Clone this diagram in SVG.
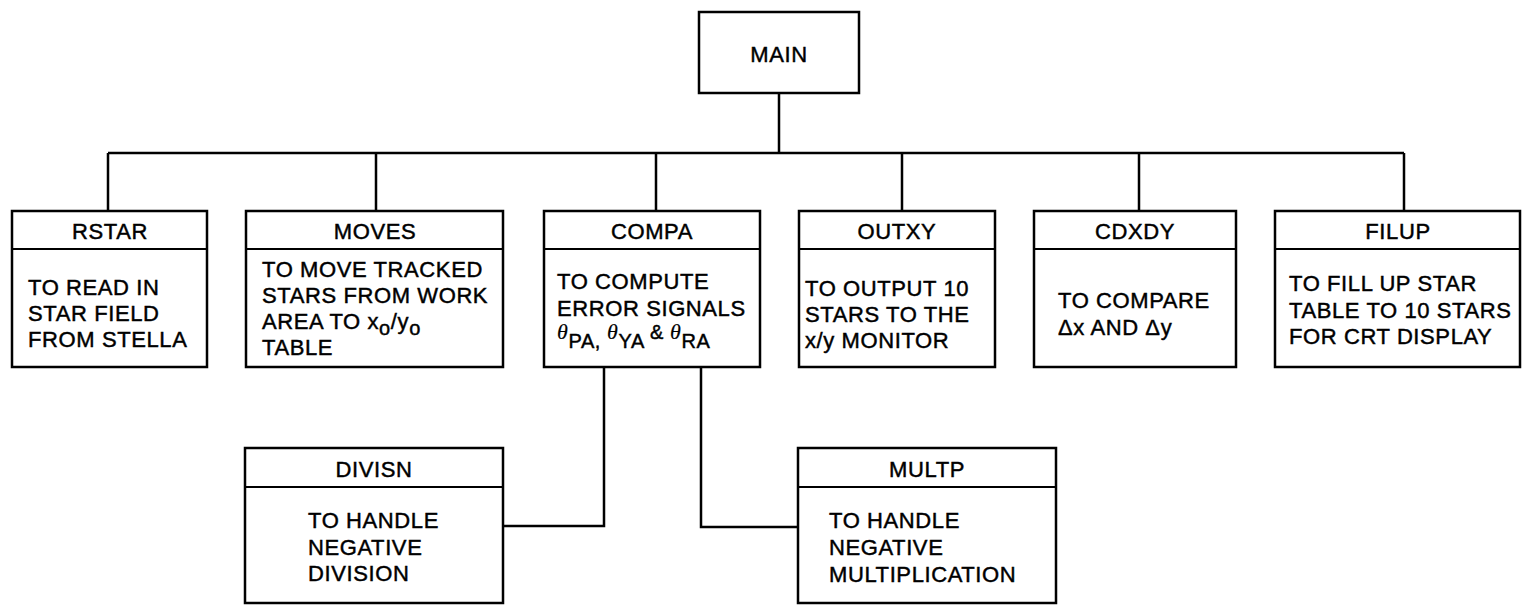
<svg xmlns="http://www.w3.org/2000/svg" width="1528" height="607" viewBox="0 0 1528 607">
<style>
.box{fill:#fff;stroke:#000;stroke-width:2.5}
.div{stroke:#000;stroke-width:2}
.conn{fill:none;stroke:#000;stroke-width:2.5}
.t{font-family:"Liberation Sans",Arial,sans-serif;font-size:22px;fill:#000;stroke:#000;stroke-width:0.45;letter-spacing:0.6px}
.h{text-anchor:middle}
.th{font-family:"Liberation Serif",serif;font-style:italic;font-size:22px;stroke-width:0.2}
.sub{font-size:20px}
</style>
<rect width="1528" height="607" fill="#fff"/>
<g id="connectors">
<path class="conn" d="M779 93V153M108 153H1404M108 153V211M376 153V211M656 153V211M902 153V211M1139 153V211M1404 153V211"/>
<path class="conn" d="M604 367V526H503"/>
<path class="conn" d="M701 367V527H798"/>
</g>
<g id="MAIN">
<rect class="box" x="699" y="12" width="160" height="81"/>
<text class="t h" x="779" y="62">MAIN</text>
</g>
<g id="RSTAR">
<rect class="box" x="12" y="211" width="195" height="156"/>
<line class="div" x1="12" y1="249" x2="207" y2="249"/>
<text class="t h" x="110" y="239">RSTAR</text>
<text class="t" x="28" y="295">TO READ IN</text>
<text class="t" x="28" y="321">STAR FIELD</text>
<text class="t" x="28" y="347">FROM STELLA</text>
</g>
<g id="MOVES">
<rect class="box" x="246" y="211" width="257" height="156"/>
<line class="div" x1="246" y1="249" x2="503" y2="249"/>
<text class="t h" x="375" y="239">MOVES</text>
<text class="t" x="262" y="277">TO MOVE TRACKED</text>
<text class="t" x="262" y="303">STARS FROM WORK</text>
<text class="t" x="262" y="329">AREA TO x<tspan class="sub" dy="6">o</tspan><tspan dy="-6">/y</tspan><tspan class="sub" dy="6">o</tspan></text>
<text class="t" x="262" y="355">TABLE</text>
</g>
<g id="COMPA">
<rect class="box" x="544" y="211" width="216" height="156"/>
<line class="div" x1="544" y1="249" x2="760" y2="249"/>
<text class="t h" x="652" y="239">COMPA</text>
<text class="t" x="557" y="289">TO COMPUTE</text>
<text class="t" x="557" y="316">ERROR SIGNALS</text>
<text class="t" x="557" y="339"><tspan class="th">θ</tspan><tspan class="sub" dy="9">PA,</tspan><tspan class="th" dy="-9"> θ</tspan><tspan class="sub" dy="9">YA</tspan><tspan class="sub" dy="-9"> &amp; </tspan><tspan class="th">θ</tspan><tspan class="sub" dy="9">RA</tspan></text>
</g>
<g id="OUTXY">
<rect class="box" x="799" y="211" width="196" height="156"/>
<line class="div" x1="799" y1="249" x2="995" y2="249"/>
<text class="t h" x="897" y="239">OUTXY</text>
<text class="t" x="805" y="296">TO OUTPUT 10</text>
<text class="t" x="805" y="322">STARS TO THE</text>
<text class="t" x="805" y="348">x/y MONITOR</text>
</g>
<g id="CDXDY">
<rect class="box" x="1034" y="211" width="202" height="156"/>
<line class="div" x1="1034" y1="249" x2="1236" y2="249"/>
<text class="t h" x="1135" y="239">CDXDY</text>
<text class="t" x="1058" y="308">TO COMPARE</text>
<text class="t" x="1058" y="335">Δx AND Δy</text>
</g>
<g id="FILUP">
<rect class="box" x="1275" y="211" width="245" height="156"/>
<line class="div" x1="1275" y1="249" x2="1520" y2="249"/>
<text class="t h" x="1398" y="239">FILUP</text>
<text class="t" x="1289" y="291">TO FILL UP STAR</text>
<text class="t" x="1289" y="318">TABLE TO 10 STARS</text>
<text class="t" x="1289" y="344">FOR CRT DISPLAY</text>
</g>
<g id="DIVISN">
<rect class="box" x="245" y="448" width="258" height="155"/>
<line class="div" x1="245" y1="487" x2="503" y2="487"/>
<text class="t h" x="374" y="477">DIVISN</text>
<text class="t" x="308" y="528">TO HANDLE</text>
<text class="t" x="308" y="555">NEGATIVE</text>
<text class="t" x="308" y="581">DIVISION</text>
</g>
<g id="MULTP">
<rect class="box" x="798" y="448" width="258" height="155"/>
<line class="div" x1="798" y1="487" x2="1056" y2="487"/>
<text class="t h" x="927" y="477">MULTP</text>
<text class="t" x="829" y="528">TO HANDLE</text>
<text class="t" x="829" y="555">NEGATIVE</text>
<text class="t" x="829" y="582">MULTIPLICATION</text>
</g>
</svg>
